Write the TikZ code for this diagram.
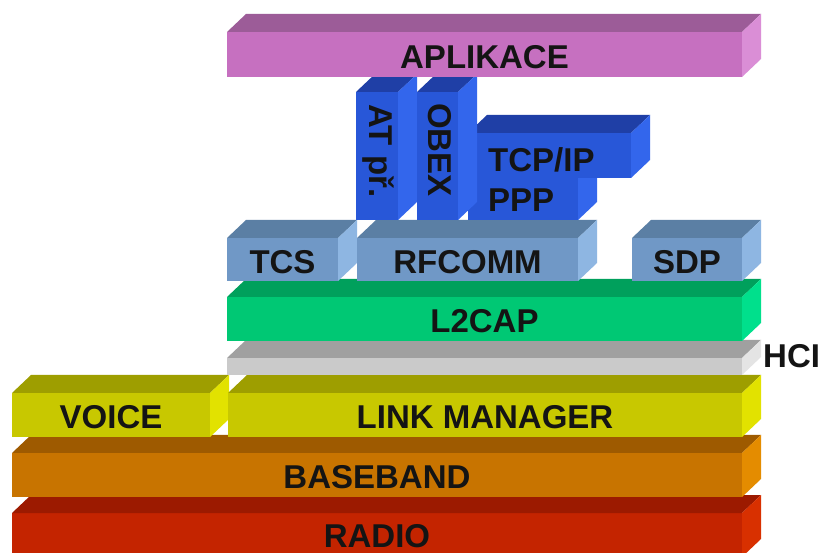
\documentclass[tikz,border=0pt]{standalone}
\usepackage{fontspec}
\setmainfont{Liberation Sans}
\definecolor{pinkF}{HTML}{C670C0}\definecolor{pinkT}{HTML}{9C5C98}\definecolor{pinkS}{HTML}{DA8ED6}
\definecolor{blueF}{HTML}{2857D8}\definecolor{blueT}{HTML}{1F3FA6}\definecolor{blueS}{HTML}{3366EC}
\definecolor{steelF}{HTML}{7098C6}\definecolor{steelT}{HTML}{5B7FA4}\definecolor{steelS}{HTML}{8EB6E2}
\definecolor{greenF}{HTML}{00C874}\definecolor{greenT}{HTML}{00A05C}\definecolor{greenS}{HTML}{00E08C}
\definecolor{grayF}{HTML}{CACACA}\definecolor{grayT}{HTML}{A0A0A0}\definecolor{grayS}{HTML}{E4E4E4}
\definecolor{yelF}{HTML}{C8C800}\definecolor{yelT}{HTML}{9E9E00}\definecolor{yelS}{HTML}{E2E200}
\definecolor{orF}{HTML}{C87400}\definecolor{orT}{HTML}{9E5A00}\definecolor{orS}{HTML}{E48C00}
\definecolor{redF}{HTML}{C42400}\definecolor{redT}{HTML}{9C1A00}\definecolor{redS}{HTML}{D83000}
\newcommand\layerfaces[5]{%
  \fill[#5F] (#1,#2) rectangle (#3,#4);
  \fill[#5T] (#1,#2) -- ++(19,-18) -- ({#3+19},{#2-18}) -- (#3,#2) -- cycle;
  \fill[#5S] (#3,#2) -- ++(19,-18) -- ({#3+19},{#4-18}) -- (#3,#4) -- cycle;}
\newcommand\layerbox[7]{%
  \layerfaces{#2}{#3}{#4}{#5}{#6}
  \node[lbl] (#1) at ({(#2+#4)/2},{(#3+#5)/2+14}) {#7};}
\tikzset{lbl/.style={font=\fontsize{33}{36}\selectfont\bfseries, text=black!92, inner sep=0pt, anchor=base}}
\begin{document}
\begin{tikzpicture}[x=1pt,y=-1pt]
\clip (0,0) rectangle (820,553);
\fill[white] (0,0) rectangle (820,553);
\layerfaces{12}{513}{742}{557}{red}
\node[lbl] (radio) at (377,547) {RADIO};
\layerbox{baseband}{12}{453}{742}{497}{or}{BASEBAND}
\layerbox{voice}{12}{393}{210}{437}{yel}{VOICE}
\layerbox{lm}{228}{393}{742}{437}{yel}{LINK MANAGER}
\layerfaces{227}{358}{742}{375}{gray}
\node[lbl, anchor=base west] (hci) at (763,368) {HCI};
\layerbox{l2cap}{227}{297}{742}{341}{green}{L2CAP}
\layerbox{tcs}{227}{238}{338}{281}{steel}{TCS}
\layerbox{rfcomm}{357}{238}{578}{281}{steel}{RFCOMM}
\layerbox{sdp}{632}{238}{742}{281}{steel}{SDP}
\layerfaces{468}{178}{578}{220}{blue}
\layerfaces{468}{133}{631}{178}{blue}
\node[lbl, anchor=base west] (tcpip) at (488,172) {TCP/IP};
\node[lbl, anchor=base west] (ppp) at (488,212) {PPP};
\layerfaces{356}{92}{398}{220}{blue}
\node[lbl, rotate=-90] (at) at (369,151) {AT př.};
\layerfaces{417}{92}{458}{220}{blue}
\node[lbl, rotate=-90] (obex) at (428,150) {OBEX};
\layerbox{apl}{227}{32}{742}{77}{pink}{APLIKACE}
\end{tikzpicture}
\end{document}
